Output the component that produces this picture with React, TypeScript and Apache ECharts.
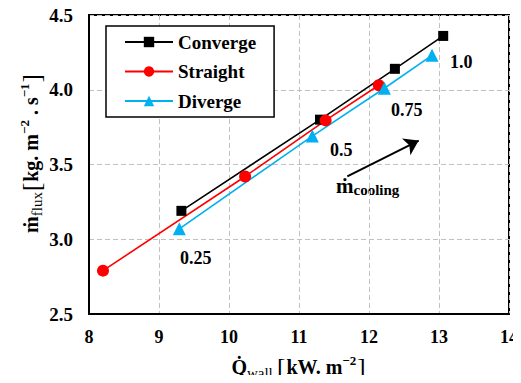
import React, { useEffect, useRef } from "react";
import * as echarts from "echarts";

const convergeX = [9.32, 11.3, 12.37, 13.06];
const convergeY = [3.19, 3.8, 4.14, 4.36];
const straightX = [8.2, 10.23, 11.38, 12.14];
const straightY = [2.79, 3.42, 3.795, 4.03];
const divergeX = [9.29, 11.19, 12.22, 12.9];
const divergeY = [3.07, 3.69, 4.01, 4.23];
const seriesNames = ["Converge", "Straight", "Diverge"];
const ratioLabels = ["0.25", "0.5", "0.75", "1.0"];
const arrowFrom = [11.69, 3.42];
const arrowTo = [12.71, 3.66];

const FONT = "Liberation Serif, Times New Roman, serif";

const pairs = (xs: number[], ys: number[]) => xs.map((x, i) => [x, ys[i]]);

const nameRich = {
  m: { fontFamily: FONT, fontWeight: "bold", fontSize: 20, fill: "#000", color: "#000", verticalAlign: "middle", lineHeight: 22 },
  s: { fontFamily: FONT, fontWeight: "normal", fontSize: 15, fill: "#000", color: "#000", verticalAlign: "bottom", lineHeight: 18 },
  p: { fontFamily: FONT, fontWeight: "bold", fontSize: 13, fill: "#000", color: "#000", verticalAlign: "top", lineHeight: 15 },
  b: { fontFamily: FONT, fontWeight: "normal", fontSize: 25, fill: "#000", color: "#000", verticalAlign: "middle", lineHeight: 26, padding: [0, 1, 0, 1] },
};

export default function App() {
  const ref = useRef<HTMLDivElement>(null);
  useEffect(() => {
    if (!ref.current) return;
    const chart = echarts.init(ref.current, null, { renderer: "svg" });
    const txt = (text: string, x: number, y: number) => ({
      type: "text",
      x,
      y,
      style: {
        text,
        fontFamily: FONT,
        fontWeight: "bold",
        fontSize: 18,
        fill: "#000",
        verticalAlign: "middle",
      },
    });
    chart.setOption({
      animation: false,
      backgroundColor: "#fff",
      textStyle: { fontFamily: FONT },
      grid: {
        left: 89,
        top: 15,
        right: 12,
        bottom: 69,
        show: true,
        borderColor: "#000",
        borderWidth: 2,
        backgroundColor: "transparent",
      },
      xAxis: {
        type: "value",
        min: 8,
        max: 14,
        interval: 1,
        axisLine: { show: true, onZero: false, lineStyle: { color: "#000", width: 2 } },
        axisTick: { show: false },
        axisLabel: { margin: 14, color: "#000", fontFamily: FONT, fontWeight: "bold", fontSize: 18 },
        splitLine: { show: true, lineStyle: { color: "#c0c0c0", type: [5, 3], width: 1 } },
      },
      yAxis: {
        type: "value",
        min: 2.5,
        max: 4.5,
        interval: 0.5,
        axisLine: { show: true, onZero: false, lineStyle: { color: "#000", width: 2 } },
        axisTick: { show: false },
        axisLabel: {
          margin: 16,
          color: "#000",
          fontFamily: FONT,
          fontWeight: "bold",
          fontSize: 19,
          formatter: (v: number) => v.toFixed(1),
        },
        splitLine: { show: true, lineStyle: { color: "#c0c0c0", type: [5, 3], width: 1 } },
      },
      legend: {
        orient: "vertical",
        left: 106,
        top: 26,
        padding: [6, 18, 6, 18],
        itemWidth: 48,
        itemHeight: 13,
        itemGap: 9.5,
        borderColor: "#000",
        borderWidth: 1.5,
        backgroundColor: "#fff",
        textStyle: { color: "#000", fontFamily: FONT, fontWeight: "bold", fontSize: 19, lineHeight: 20 },
        data: seriesNames,
      },
      series: [
        {
          name: seriesNames[0],
          type: "line",
          data: pairs(convergeX, convergeY),
          symbol: "rect",
          symbolSize: 10,
          color: "#000",
          lineStyle: { color: "#000", width: 1.6 },
          itemStyle: { color: "#000" },
        },
        {
          name: seriesNames[1],
          type: "line",
          data: pairs(straightX, straightY),
          symbol: "circle",
          symbolSize: 12,
          color: "#ff0000",
          lineStyle: { color: "#ff0000", width: 1.6 },
          itemStyle: { color: "#ff0000" },
        },
        {
          name: seriesNames[2],
          type: "line",
          data: pairs(divergeX, divergeY),
          symbol: "triangle",
          symbolSize: 13,
          color: "#00b0f0",
          lineStyle: { color: "#00b0f0", width: 1.6 },
          itemStyle: { color: "#00b0f0" },
          markLine: {
            silent: true,
            symbol: ["none", "arrow"],
            symbolSize: 14,
            label: { show: false },
            lineStyle: { color: "#000", type: "solid", width: 2 },
            data: [[{ coord: arrowFrom }, { coord: arrowTo }]],
          },
        },
      ],
      graphic: [
        txt(ratioLabels[3], 450, 62),
        txt(ratioLabels[2], 391, 110),
        txt(ratioLabels[1], 330, 150),
        txt(ratioLabels[0], 180, 258),
        {
          type: "text",
          x: 336,
          y: 186,
          style: {
            text: "{m|ṁ}{s|cooling}",
            verticalAlign: "middle",
            rich: {
              m: { fontFamily: FONT, fontWeight: "bold", fontSize: 21, fill: "#000", verticalAlign: "middle", lineHeight: 22 },
              s: { fontFamily: FONT, fontWeight: "bold", fontSize: 15, fill: "#000", verticalAlign: "bottom", lineHeight: 16 },
            },
          },
        },
        {
          type: "text",
          x: 31,
          y: 153,
          rotation: Math.PI / 2,
          style: {
            text: "{m|ṁ}{s|flux}{b|[}{m|kg. m}{p|−2}{m| . s}{p|−1}{b|]}",
            align: "center",
            verticalAlign: "middle",
            rich: nameRich,
          },
        },
        {
          type: "text",
          x: 299,
          y: 367,
          style: {
            text: "{m|Q̇}{s|wall} {b|[}{m|kW. m}{p|−2}{b|]}",
            align: "center",
            verticalAlign: "middle",
            rich: nameRich,
          },
        },
      ],
    });
    return () => chart.dispose();
  }, []);
  return <div ref={ref} style={{ width: 521, height: 383, margin: -8 }} />;
}
